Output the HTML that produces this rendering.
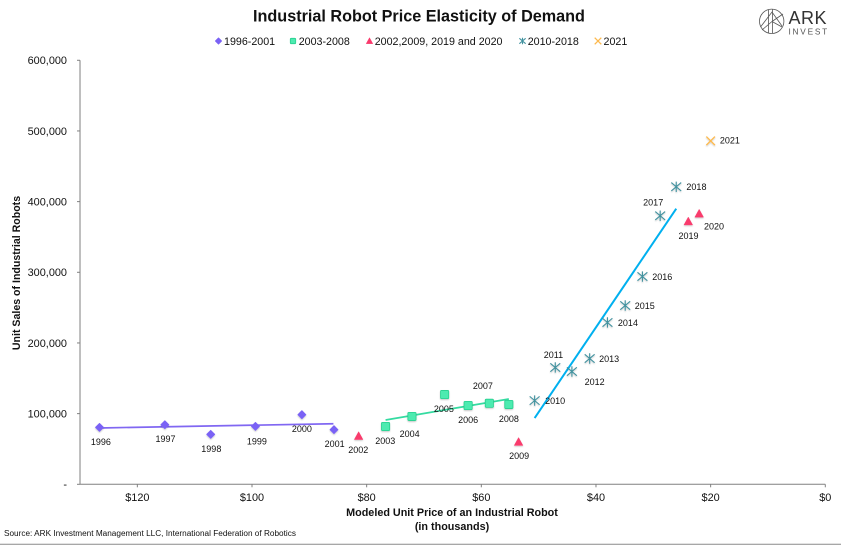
<!DOCTYPE html>
<html lang="en">
<head>
<meta charset="utf-8">
<title>Industrial Robot Price Elasticity of Demand</title>
<style>
html,body{margin:0;padding:0;background:#fff;width:841px;height:545px;overflow:hidden}
svg{display:block}
text{font-family:"Liberation Sans",sans-serif;fill:#111}
</style>
</head>
<body>
<svg id="chart" width="841" height="545" viewBox="0 0 841 545" xmlns="http://www.w3.org/2000/svg">
  <defs>
    <filter id="soft" x="-50%" y="-50%" width="200%" height="220%">
      <feDropShadow dx="0" dy="1" stdDeviation="0.8" flood-color="#000" flood-opacity="0.22"/>
    </filter>
  </defs>
  <text x="419" y="21.5" text-anchor="middle" font-size="16.2" font-weight="700" fill="#000">Industrial Robot Price Elasticity of Demand</text>

  <g fill="none" stroke="#555" stroke-width="0.8">
    <circle cx="771.7" cy="21.3" r="12.2"/>
    <path d="M768.5 9.5V33M772.5 9.5V33M760.5 27L772 12L782 26M772 21.5L783 14M772 21.5L762 30M772 21.5L782 27"/>
  </g>
  <text x="788.5" y="24" font-size="18" letter-spacing="0.5" style="fill:#333">ARK</text>
  <text x="788.5" y="34.3" font-size="8.3" letter-spacing="1.75" style="fill:#555">INVEST</text>

  <g id="legend"></g>
  <g id="axes"></g>
  <g id="marks"></g>

  <text transform="translate(20,273) rotate(-90)" text-anchor="middle" font-size="10.6" font-weight="700">Unit Sales of Industrial Robots</text>
  <text x="452" y="516" text-anchor="middle" font-size="10.8" font-weight="700">Modeled Unit Price of an Industrial Robot</text>
  <text x="452" y="530" text-anchor="middle" font-size="10.8" font-weight="700">(in thousands)</text>
  <text x="4" y="536" font-size="8.23">Source: ARK Investment Management LLC, International Federation of Robotics</text>
  <line x1="0" x2="841" y1="544.3" y2="544.3" stroke="#8a8a8a" stroke-width="1"/>
</svg>
<script>
// ---- chart data ----
const years1996to2001 = ['1996','1997','1998','1999','2000','2001'];
const prices1996to2001 = [126.6,115.2,107.2,99.4,91.3,85.7];
const units1996to2001 = [80600,84300,70700,82000,98500,77300];

const years2003to2008 = ['2003','2004','2005','2006','2007','2008'];
const prices2003to2008 = [76.7,72.1,66.4,62.3,58.6,55.2];
const units2003to2008 = [81800,96000,127000,111500,114600,113000];

const yearsOutliers = ['2002','2009','2019','2020'];
const pricesOutliers = [81.4,53.5,23.9,22.0];
const unitsOutliers = [68300,60000,372000,383000];

const years2010to2018 = ['2010','2011','2012','2013','2014','2015','2016','2017','2018'];
const prices2010to2018 = [50.7,47.1,44.2,41.1,38.0,34.9,31.9,28.8,26.0];
const units2010to2018 = [118500,165300,159600,178000,229000,253000,294000,380000,421000];

const years2021 = ['2021'];
const prices2021 = [20.0];
const units2021 = [486000];

const trendPrices1996to2001 = [126.6,85.8];
const trendUnits1996to2001 = [79700,85700];
const trendPrices2003to2008 = [76.7,55.2];
const trendUnits2003to2008 = [91000,120700];
const trendPrices2010to2018 = [50.7,26.0];
const trendUnits2010to2018 = [93800,390000];

const yTickValues = [0,100000,200000,300000,400000,500000,600000];
const yTickLabels = ['-','100,000','200,000','300,000','400,000','500,000','600,000'];
const xTickValues = [120,100,80,60,40,20,0];
const xTickLabels = ['$120','$100','$80','$60','$40','$20','$0'];
const legendLabels = ['1996-2001','2003-2008','2002,2009, 2019 and 2020','2010-2018','2021'];

// ---- drawing ----
(function () {
  const NS = 'http://www.w3.org/2000/svg';
  const xScale = function (price) { return 825.3 - 5.733 * price; };
  const yScale = function (units) { return 484.3 - units * 0.0007067; };
  const axisLeft = xScale(130);
  const C = { purple:'#7a62f5', green:'#4debb0', red:'#f93a6c', star:'#42929f', orange:'#fdb94e',
              line1:'#8067f2', line2:'#35dba1', line3:'#00b0ef', axis:'#808080' };

  function make(tag, parent, attrs) {
    const el = document.createElementNS(NS, tag);
    Object.keys(attrs).forEach(function (k) { el.setAttribute(k, attrs[k]); });
    parent.appendChild(el);
    return el;
  }

  function marker(parent, kind, x, y, size, name, soft) {
    const g = make('g', parent, { transform: 'translate(' + x + ',' + y + ')' });
    
    
    if (soft) g.setAttribute('filter', 'url(#soft)');
    const s = size;
    if (kind === 'diamond') {
      make('path', g, { d: 'M0 ' + (-s) + 'L' + s + ' 0L0 ' + s + 'L' + (-s) + ' 0Z', fill: C.purple, stroke: C.purple, 'stroke-width': 1, 'stroke-linejoin': 'round' });
    } else if (kind === 'square') {
      make('rect', g, { x: -s, y: -s, width: 2 * s, height: 2 * s, rx: 1, fill: C.green, stroke: '#27d08f', 'stroke-width': 0.8 });
    } else if (kind === 'triangle') {
      make('path', g, { d: 'M0 ' + (-s * 1.05) + 'L' + (s * 1.05) + ' ' + (s * 0.85) + 'L' + (-s * 1.05) + ' ' + (s * 0.85) + 'Z', fill: C.red, stroke: C.red, 'stroke-width': 0.5, 'stroke-linejoin': 'round' });
    } else if (kind === 'star') {
      const d = s * 0.95;
      make('path', g, { d: 'M0 ' + (-s) + 'V' + s + 'M' + (-d) + ' ' + (-d * 0.85) + 'L' + d + ' ' + (d * 0.85) + 'M' + (-d) + ' ' + (d * 0.85) + 'L' + d + ' ' + (-d * 0.85), fill: 'none', stroke: C.star, 'stroke-width': 1.1 });
    } else {
      make('path', g, { d: 'M' + (-s) + ' ' + (-s) + 'L' + s + ' ' + s + 'M' + (-s) + ' ' + s + 'L' + s + ' ' + (-s), fill: 'none', stroke: C.orange, 'stroke-width': 1.3 });
    }
    return g;
  }

  // axes
  const axes = document.getElementById('axes');
  const yAxis = make('line', axes, { x1: axisLeft, x2: axisLeft, y1: yScale(600000), y2: yScale(0), stroke: C.axis, 'stroke-width': 1 });
  
  
  const xAxis = make('line', axes, { x1: axisLeft, x2: xScale(0), y1: yScale(0), y2: yScale(0), stroke: C.axis, 'stroke-width': 1 });
  
  

  yTickValues.forEach(function (v, i) {
    const tick = make('line', axes, { x1: axisLeft - 3, x2: axisLeft, y1: yScale(v), y2: yScale(v), stroke: C.axis, 'stroke-width': 1 });
    
    
    const label = make('text', axes, { x: 67, y: yScale(v) + 3.8, 'text-anchor': 'end', 'font-size': 10.9 });
    
    
    label.textContent = yTickLabels[i];
  });
  xTickValues.forEach(function (v, i) {
    const tick = make('line', axes, { x1: xScale(v), x2: xScale(v), y1: yScale(0), y2: yScale(0) + 3, stroke: C.axis, 'stroke-width': 1 });
    
    
    const label = make('text', axes, { x: xScale(v), y: 501, 'text-anchor': 'middle', 'font-size': 10.9 });
    
    
    label.textContent = xTickLabels[i];
  });

  // legend
  const legend = document.getElementById('legend');
  const legendKinds = ['diamond', 'square', 'triangle', 'star', 'cross'];
  const legendMarkX = [218.5, 293, 369.5, 522.5, 598];
  const legendTextX = [224, 298.7, 374.7, 527.7, 603.5];
  const legendSizes = [3, 2.7, 3.1, 3.3, 3.3];
  legendLabels.forEach(function (txt, i) {
    const g = make('g', legend, {});
    
    
    marker(g, legendKinds[i], legendMarkX[i], 41, legendSizes[i], 'legend-marker', false);
    const t = make('text', g, { x: legendTextX[i], y: 45, 'font-size': 10.7 });
    
    
    t.textContent = txt;
  });

  // trend lines
  const marks = document.getElementById('marks');
  function trend(prices, units, color, name, width) {
    const l = make('line', marks, { x1: xScale(prices[0]), y1: yScale(units[0]), x2: xScale(prices[1]), y2: yScale(units[1]), stroke: color, 'stroke-width': width });
    
    
  }
  trend(trendPrices1996to2001, trendUnits1996to2001, C.line1, 'trendline-1996-2001', 1.7);
  trend(trendPrices2003to2008, trendUnits2003to2008, C.line2, 'trendline-2003-2008', 1.7);
  trend(trendPrices2010to2018, trendUnits2010to2018, C.line3, 'trendline-2010-2018', 2);

  // label placement relative to each mark (dx, dy of label centre)
  const labelPlacement = {
    '1996':[1.4,14.7],'1997':[.6,14],'1998':[.6,14.4],'1999':[1.4,14.7],'2000':[0,14],'2001':[.6,14.3],
    '2002':[-.4,14],'2003':[-.3,14.5],'2004':[-2.3,17.5],'2005':[-.8,14.2],'2006':[0,14.2],'2007':[-6.5,-17.6],'2008':[0,14.2],
    '2009':[.5,13.7],'2010':[20.5,.2],'2011':[-1.8,-12.8],'2012':[22.7,10.2],'2013':[19.5,.2],'2014':[20.5,.2],'2015':[19.5,.2],'2016':[19.8,.2],
    '2017':[-7,-13.5],'2018':[20.2,.2],'2019':[.2,14.2],'2020':[14.8,12.5],'2021':[19.2,-.3]
  };

  function series(years, prices, units, kind, size, seriesName) {
    const g = make('g', marks, {});
    
    
    years.forEach(function (yr, i) {
      const x = xScale(prices[i]);
      const y = yScale(units[i]);
      marker(g, kind, x, y, size, 'point-' + yr, true);
      const off = labelPlacement[yr];
      const t = make('text', g, { x: x + off[0], y: y + off[1] + 3.2, 'text-anchor': 'middle', 'font-size': 9 });
      
      
      t.textContent = yr;
    });
  }
  series(years1996to2001, prices1996to2001, units1996to2001, 'diamond', 3.9, 'series-1996-2001');
  series(years2003to2008, prices2003to2008, units2003to2008, 'square', 4.1, 'series-2003-2008');
  series(yearsOutliers, pricesOutliers, unitsOutliers, 'triangle', 4.1, 'series-2002-2009-2019-2020');
  series(years2010to2018, prices2010to2018, units2010to2018, 'star', 5.2, 'series-2010-2018');
  series(years2021, prices2021, units2021, 'cross', 4.3, 'series-2021');
})();
</script>
</body>
</html>
